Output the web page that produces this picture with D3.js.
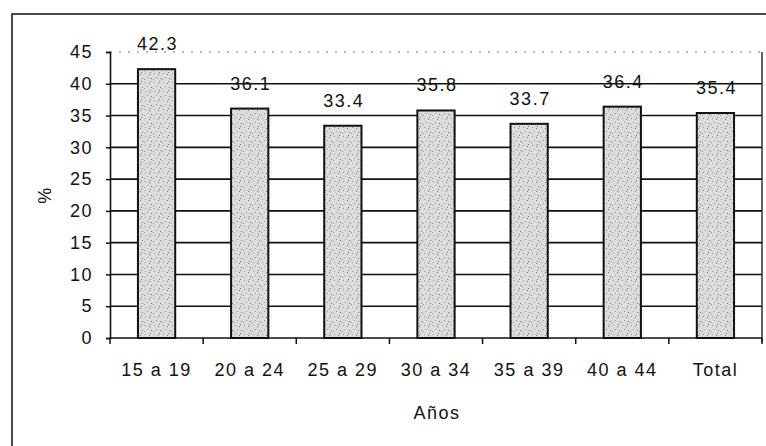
<!DOCTYPE html>
<html lang="es">
<head>
<meta charset="utf-8">
<title>Porcentaje por grupo de edad</title>
<script src="https://cdn.jsdelivr.net/npm/d3@7"></script>
<style>
  body { margin: 0; background: #fff; }
  svg text { font-family: "Liberation Sans", Arial, sans-serif; font-size: 18px; letter-spacing: 1.5px; fill: #111; }
</style>
</head>
<body>
<svg id="chart"></svg>
<script>
// data
var categories = ["15 a 19", "20 a 24", "25 a 29", "30 a 34", "35 a 39", "40 a 44", "Total"];
var values = [42.3, 36.1, 33.4, 35.8, 33.7, 36.4, 35.4];
var yTicks = [0, 5, 10, 15, 20, 25, 30, 35, 40, 45];

var svgWidth = 766, svgHeight = 446;
var plotLeft = 110, plotRight = 762, plotTop = 52, plotBottom = 338;

var svg = d3.select("#chart")
    .attr("width", svgWidth)
    .attr("height", svgHeight);

// speckled fill for the bars
var pat = svg.append("defs").append("pattern")
    .attr("id", "speckle")
    .attr("width", 9).attr("height", 9)
    .attr("patternUnits", "userSpaceOnUse");
pat.append("rect").attr("width", 9).attr("height", 9).attr("fill", "#dcdcdc");
[[1, 1], [5, 2], [3, 5], [7, 6], [0, 7], [6, 0]].forEach(function(p, i) {
  pat.append("rect")
    .attr("x", p[0]).attr("y", p[1])
    .attr("width", 1).attr("height", 1)
    .attr("fill", i % 2 ? "#777" : "#999");
});

// outer frame
svg.append("rect")
    .attr("x", 12).attr("y", 14)
    .attr("width", 780).attr("height", 460)
    .attr("fill", "none")
    .attr("stroke", "#111")
    .attr("stroke-width", 1.5);

var x = d3.scaleBand()
    .domain(categories)
    .range([plotLeft, plotRight])
    .paddingInner(0.6)
    .paddingOuter(0.3);

var y = d3.scaleLinear()
    .domain([0, 45])
    .range([plotBottom, plotTop]);

// gridlines
svg.append("g").selectAll("line")
    .data(yTicks.filter(function(d) { return d > 0; }))
    .enter().append("line")
    .attr("x1", plotLeft).attr("x2", plotRight)
    .attr("y1", function(d) { return y(d); })
    .attr("y2", function(d) { return y(d); })
    .attr("stroke", function(d) { return d === 45 ? "#777" : "#111"; })
    .attr("stroke-width", function(d) { return d === 45 ? 1.2 : 1.6; })
    .attr("stroke-dasharray", function(d) { return d === 45 ? "2,7" : null; });

// right edge of plot area
svg.append("line")
    .attr("x1", plotRight).attr("x2", plotRight)
    .attr("y1", y(45)).attr("y2", y(0) + 4)
    .attr("stroke", "#111").attr("stroke-width", 1.3);

// y axis
var yAxis = svg.append("g")
    .attr("transform", "translate(" + plotLeft + ",0)")
    .call(d3.axisLeft(y).tickValues(yTicks).tickSize(4).tickPadding(13));
yAxis.select(".domain").attr("stroke", "#111").attr("stroke-width", 1.6);
yAxis.selectAll(".tick line").attr("stroke", "#111").attr("stroke-width", 1.5);
yAxis.selectAll("text").attr("fill", "#111").attr("font-size", null)
    .attr("font-family", null);

// x axis line and ticks on band boundaries
var step = x.step();
var bounds = categories.map(function(c) { return x(c) - (step - x.bandwidth()) / 2; });
bounds.push(plotRight);
svg.append("line")
    .attr("x1", plotLeft).attr("x2", plotRight)
    .attr("y1", y(0)).attr("y2", y(0))
    .attr("stroke", "#111").attr("stroke-width", 1.6);
svg.append("g").selectAll("line")
    .data(bounds)
    .enter().append("line")
    .attr("x1", function(d) { return d; })
    .attr("x2", function(d) { return d; })
    .attr("y1", y(0)).attr("y2", y(0) + 6)
    .attr("stroke", "#111").attr("stroke-width", 1.5);

// category labels
svg.append("g").selectAll("text")
    .data(categories)
    .enter().append("text")
    .attr("x", function(d) { return x(d) + x.bandwidth() / 2; })
    .attr("y", 376)
    .attr("text-anchor", "middle")
    .text(function(d) { return d; });

// bars
svg.append("g").selectAll("rect")
    .data(values)
    .enter().append("rect")
    .attr("x", function(d, i) { return x(categories[i]); })
    .attr("y", function(d) { return y(d); })
    .attr("width", x.bandwidth())
    .attr("height", function(d) { return y(0) - y(d); })
    .attr("fill", "url(#speckle)")
    .attr("stroke", "#111")
    .attr("stroke-width", 2);

// value labels
svg.append("g").selectAll("text")
    .data(values)
    .enter().append("text")
    .attr("x", function(d, i) { return x(categories[i]) + x.bandwidth() / 2 + 1; })
    .attr("y", function(d) { return y(d) - 19; })
    .attr("text-anchor", "middle")
    .text(function(d) { return d.toFixed(1); });

// axis titles
svg.append("text")
    .attr("transform", "translate(51,195) rotate(-90)")
    .attr("text-anchor", "middle")
    .text("%");

svg.append("text")
    .attr("x", 437)
    .attr("y", 419)
    .attr("text-anchor", "middle")
    .text("Años");
</script>
</body>
</html>
